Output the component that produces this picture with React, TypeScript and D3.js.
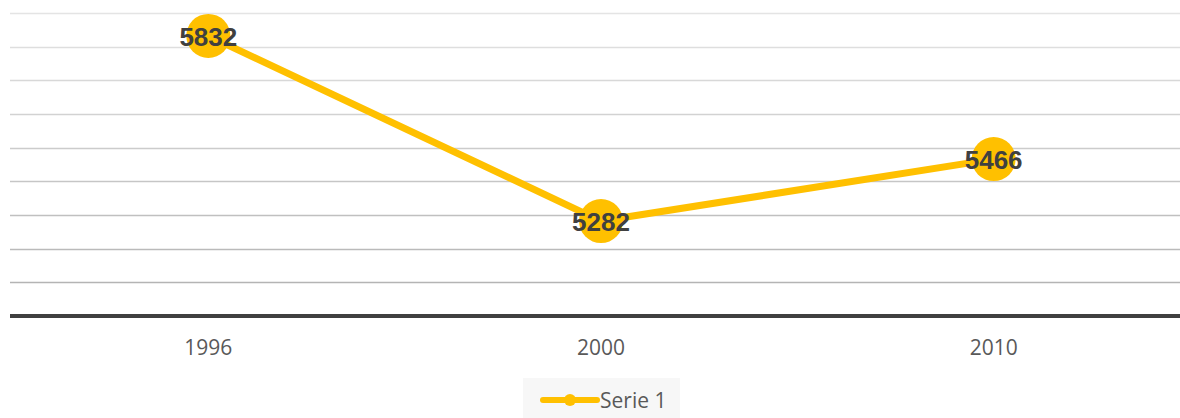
import { useEffect, useRef } from 'react';
import { select, scaleLinear, scaleBand, line, range, interpolateRgb } from 'd3';

const years = ['1996', '2000', '2010'];
const serie1 = [5832, 5282, 5466];
const seriesName = 'Serie 1';
const yMin = 5000;
const yMax = 5900;
const yStep = 100;

const W = 1180;
const H = 418;
const plot = { left: 10, right: 1180, top: 13, bottom: 316 };
const gold = '#FFC000';

const App = () => {
  const svgRef = useRef<SVGSVGElement>(null);

  useEffect(() => {
    if (!svgRef.current) return;
    const svg = select(svgRef.current);
    svg.selectAll('*').remove();

    const x = scaleBand<string>().domain(years).range([12, 1190]);
    const y = scaleLinear().domain([yMin, yMax]).range([plot.bottom, plot.top]);

    const ticks = range(yMin + yStep, yMax + 1, yStep);
    const gridColor = interpolateRgb('#b4b4b4', '#e4e4e4');

    svg
      .append('g')
      .selectAll('line')
      .data(ticks)
      .join('line')
      .attr('x1', plot.left)
      .attr('x2', plot.right)
      .attr('y1', (d) => Math.round(y(d)) + 0.5)
      .attr('y2', (d) => Math.round(y(d)) + 0.5)
      .attr('stroke', (_d, i) => gridColor(i / (ticks.length - 1)))
      .attr('stroke-width', 1.3);

    // axis line
    svg
      .append('line')
      .attr('x1', plot.left)
      .attr('x2', plot.right)
      .attr('y1', plot.bottom)
      .attr('y2', plot.bottom)
      .attr('stroke', '#404040')
      .attr('stroke-width', 4);

    svg
      .append('g')
      .selectAll('text')
      .data(years)
      .join('text')
      .attr('x', (d) => x(d)! + x.bandwidth() / 2)
      .attr('y', 355)
      .attr('text-anchor', 'middle')
      .attr('font-family', '"Open Sans", sans-serif')
      .attr('font-size', 21)
      .attr('fill', '#595959')
      .text((d) => d);

    const pts = years.map((yr, i) => ({
      cx: x(yr)! + x.bandwidth() / 2,
      cy: y(serie1[i]),
      v: serie1[i],
    }));

    const path = line<{ cx: number; cy: number }>()
      .x((d) => d.cx)
      .y((d) => d.cy);

    svg
      .append('path')
      .attr('d', path(pts))
      .attr('fill', 'none')
      .attr('stroke', gold)
      .attr('stroke-width', 7)
      .attr('stroke-linejoin', 'round');

    svg
      .append('g')
      .selectAll('circle')
      .data(pts)
      .join('circle')
      .attr('cx', (d) => d.cx)
      .attr('cy', (d) => d.cy)
      .attr('r', 22)
      .attr('fill', gold);

    svg
      .append('g')
      .selectAll('text')
      .data(pts)
      .join('text')
      .attr('x', (d) => d.cx)
      .attr('y', (d) => d.cy)
      .attr('dy', '0.38em')
      .attr('text-anchor', 'middle')
      .attr('font-family', '"Liberation Sans", Arial, sans-serif')
      .attr('font-weight', 'bold')
      .attr('font-size', 26)
      .attr('fill', '#404040')
      .text((d) => d.v);

    // legend
    const lg = svg.append('g');
    lg.append('rect')
      .attr('x', 523)
      .attr('y', 378)
      .attr('width', 157)
      .attr('height', 40)
      .attr('fill', '#f7f7f7');
    lg.append('line')
      .attr('x1', 543)
      .attr('x2', 597)
      .attr('y1', 400)
      .attr('y2', 400)
      .attr('stroke', gold)
      .attr('stroke-width', 6)
      .attr('stroke-linecap', 'round');
    lg.append('circle').attr('cx', 570).attr('cy', 400).attr('r', 6).attr('fill', gold);
    lg.append('text')
      .attr('x', 600)
      .attr('y', 408)
      .attr('font-family', '"Open Sans", sans-serif')
      .attr('font-size', 21)
      .attr('fill', '#595959')
      .text(seriesName);
  }, []);

  return (
    <div style={{ position: 'absolute', left: 0, top: 0 }}>
      <svg ref={svgRef} width={W} height={H} style={{ display: 'block' }} />
    </div>
  );
};

export default App;
